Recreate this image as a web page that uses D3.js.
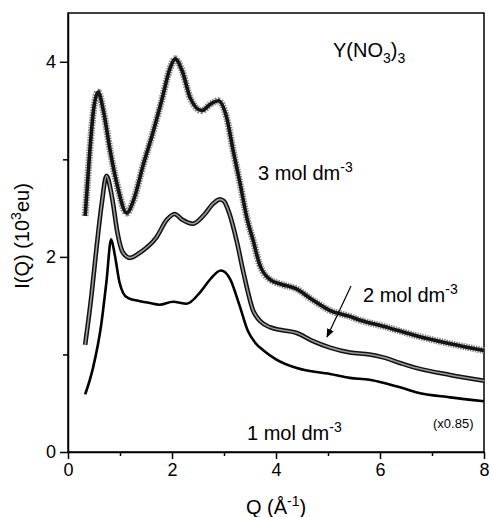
<!DOCTYPE html>
<html lang="en">

<head>
    <meta charset="UTF-8">
    <title>Y(NO3)3 I(Q)</title>
    <style>
        body { margin: 0; background: #fff; }
        svg text { font-family: "Liberation Sans", Arial, sans-serif; fill: #000; }
        .axis path, .axis line { fill: none; stroke: #000; stroke-width: 1.5; }
        .axis text { font-size: 18px; }
    </style>
</head>

<body>
    <div id="graph"></div>

    <script src="https://cdnjs.cloudflare.com/ajax/libs/d3/7.0.0/d3.min.js"></script>

    <script>
        // values
        var q1 = [0.33, 0.48, 0.64, 0.74, 0.83, 0.9, 0.99, 1.06, 1.15, 1.35, 1.55, 1.76, 2.02, 2.28, 2.56, 2.75, 2.94, 3.12, 3.3, 3.46, 3.6, 3.76, 4.0, 4.4, 5.04, 5.42, 5.8, 6.06, 6.4, 6.71, 7.35, 8.0];
        var i1 = [0.59, 0.86, 1.31, 1.75, 2.18, 2.02, 1.74, 1.63, 1.58, 1.55, 1.53, 1.51, 1.54, 1.52, 1.65, 1.78, 1.86, 1.77, 1.5, 1.24, 1.12, 1.04, 0.95, 0.86, 0.80, 0.76, 0.74, 0.71, 0.66, 0.61, 0.56, 0.52];

        var q2 = [0.33, 0.45, 0.55, 0.65, 0.74, 0.85, 0.95, 1.05, 1.19, 1.4, 1.7, 1.9, 2.05, 2.2, 2.4, 2.6, 2.8, 2.92, 3.0, 3.1, 3.25, 3.37, 3.56, 3.7, 3.88, 4.1, 4.4, 4.7, 5.04, 5.42, 5.8, 6.06, 6.4, 6.71, 7.35, 8.0];
        var i2 = [1.10, 1.6, 2.1, 2.55, 2.83, 2.6, 2.25, 2.05, 1.99, 2.05, 2.2, 2.38, 2.44, 2.38, 2.34, 2.42, 2.55, 2.59, 2.57, 2.45, 2.15, 1.85, 1.45, 1.34, 1.28, 1.25, 1.22, 1.14, 1.07, 1.02, 1.0, 0.97, 0.91, 0.86, 0.79, 0.73];

        var q3 = [0.33, 0.42, 0.49, 0.58, 0.68, 0.81, 0.94, 1.13, 1.26, 1.45, 1.62, 1.8, 1.96, 2.06, 2.2, 2.35, 2.57, 2.75, 2.89, 3.05, 3.18, 3.31, 3.44, 3.56, 3.68, 3.88, 4.1, 4.4, 4.7, 5.04, 5.42, 5.62, 6.06, 6.71, 7.35, 8.0];
        var i3 = [2.42, 3.09, 3.5, 3.69, 3.5, 3.09, 2.75, 2.45, 2.58, 2.95, 3.25, 3.6, 3.93, 4.03, 3.9, 3.63, 3.5, 3.57, 3.60, 3.43, 3.08, 2.75, 2.40, 2.17, 1.93, 1.77, 1.72, 1.67, 1.56, 1.45, 1.39, 1.35, 1.29, 1.19, 1.11, 1.04];

        var xTicks = [0, 2, 4, 6, 8];
        var xMinor = [1, 3, 5, 7];
        var yTicks = [0, 2, 4];
        var yMinor = [1, 3];

        var width = 492, height = 517;

        var svg = d3.select("#graph").append("svg")
            .attr("width", width)
            .attr("height", height);

        var x = d3.scaleLinear().domain([0, 8]).range([68, 484]);
        var y = d3.scaleLinear().domain([0, 4.5]).range([452, 13]);

        function pts(qs, is) {
            return qs.map((q, k) => ({ q: q, v: is[k] }));
        }

        var line = d3.line()
            .curve(d3.curveMonotoneX)
            .x(d => x(d.q))
            .y(d => y(d.v));

        // frame
        svg.append("rect")
            .attr("x", x(0)).attr("y", y(4.5))
            .attr("width", x(8) - x(0)).attr("height", y(0) - y(4.5))
            .attr("fill", "none").attr("stroke", "#000").attr("stroke-width", 1.5);

        // x axis
        svg.append("g")
            .attr("class", "x axis")
            .attr("transform", "translate(0," + y(0) + ")")
            .call(d3.axisBottom(x).tickValues(xTicks).tickFormat(d3.format("d")).tickSize(7).tickPadding(4).tickSizeOuter(0));

        svg.append("g")
            .attr("class", "x axis")
            .attr("transform", "translate(0," + y(0) + ")")
            .call(d3.axisBottom(x).tickValues(xMinor).tickFormat("").tickSize(4).tickSizeOuter(0))
            .select(".domain").remove();

        // y axis
        svg.append("g")
            .attr("class", "y axis")
            .attr("transform", "translate(" + x(0) + ",0)")
            .call(d3.axisLeft(y).tickValues(yTicks).tickFormat(d3.format("d")).tickSize(8).tickPadding(4).tickSizeOuter(0));

        svg.append("g")
            .attr("class", "y axis")
            .attr("transform", "translate(" + x(0) + ",0)")
            .call(d3.axisLeft(y).tickValues(yMinor).tickFormat("").tickSize(5).tickSizeOuter(0))
            .select(".domain").remove();

        // 1 mol: plain line
        svg.append("path")
            .datum(pts(q1, i1))
            .attr("fill", "none")
            .attr("stroke", "#000")
            .attr("stroke-width", 2.6)
            .attr("d", line);

        // 2 mol: circles drawn densely -> dark rim with grey core
        svg.append("path")
            .datum(pts(q2, i2))
            .attr("fill", "none")
            .attr("stroke", "#111")
            .attr("stroke-width", 4.6)
            .attr("d", line);
        svg.append("path")
            .datum(pts(q2, i2))
            .attr("fill", "none")
            .attr("stroke", "#9a9a9a")
            .attr("stroke-width", 1.6)
            .attr("d", line);

        // 3 mol: star markers -> fuzzy dark band
        svg.append("path")
            .datum(pts(q3, i3))
            .attr("fill", "none")
            .attr("stroke", "#8a8a8a")
            .attr("stroke-width", 7)
            .attr("stroke-dasharray", "1.5,1")
            .attr("d", line);
        svg.append("path")
            .datum(pts(q3, i3))
            .attr("fill", "none")
            .attr("stroke", "#141414")
            .attr("stroke-width", 3.6)
            .attr("d", line);

        // axis titles
        var xt = svg.append("text")
            .attr("x", x(4)).attr("y", 514)
            .attr("text-anchor", "middle")
            .style("font-size", "20px");
        xt.append("tspan").text("Q (Å");
        xt.append("tspan").attr("dy", -8).style("font-size", "14px").text("-1");
        xt.append("tspan").attr("dy", 8).text(")");

        var yt = svg.append("text")
            .attr("transform", "translate(29," + 236 + ") rotate(-90)")
            .attr("text-anchor", "middle")
            .style("font-size", "20px");
        yt.append("tspan").text("I(Q) (10");
        yt.append("tspan").attr("dy", -8).style("font-size", "14px").text("3");
        yt.append("tspan").attr("dy", 8).text("eu)");

        // compound label
        var ct = svg.append("text")
            .attr("x", 333).attr("y", 57)
            .style("font-size", "20px");
        ct.append("tspan").text("Y(NO");
        ct.append("tspan").attr("dy", 6).style("font-size", "14px").text("3");
        ct.append("tspan").attr("dy", -6).text(")");
        ct.append("tspan").attr("dy", 6).style("font-size", "14px").text("3");

        // concentration labels
        function concLabel(cx, cy, n) {
            var t = svg.append("text")
                .attr("x", cx).attr("y", cy)
                .style("font-size", "20px");
            t.append("tspan").text(n + " mol dm");
            t.append("tspan").attr("dy", -8).style("font-size", "14px").text("-3");
        }
        concLabel(258, 180, 3);
        concLabel(363, 302, 2);
        concLabel(247, 440, 1);

        svg.append("text")
            .attr("x", 433).attr("y", 428)
            .style("font-size", "13px")
            .text("(x0.85)");

        // arrow to 2 mol curve
        svg.append("defs").append("marker")
            .attr("id", "ah")
            .attr("viewBox", "0 0 10 10")
            .attr("refX", 9).attr("refY", 5)
            .attr("markerWidth", 9).attr("markerHeight", 9)
            .attr("markerUnits", "userSpaceOnUse")
            .attr("orient", "auto")
            .append("path")
            .attr("d", "M0,1 L10,5 L0,9 z")
            .attr("fill", "#000");

        svg.append("line")
            .attr("x1", 351).attr("y1", 286)
            .attr("x2", 327).attr("y2", 337)
            .attr("stroke", "#000")
            .attr("stroke-width", 1.2)
            .attr("marker-end", "url(#ah)");
    </script>
</body>

</html>
